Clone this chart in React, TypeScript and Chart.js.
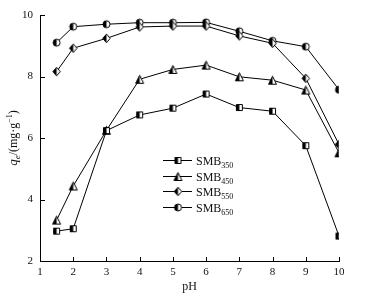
import React, { useEffect, useRef } from 'react';
import { Chart, registerables } from 'chart.js';

Chart.register(...registerables);

const pH = [1.5, 2, 3, 4, 5, 6, 7, 8, 9, 10];
const smb350 = [2.97, 3.05, 6.24, 6.75, 6.97, 7.43, 6.99, 6.87, 5.75, 2.81];
const smb450 = [3.33, 4.44, 6.25, 7.91, 8.23, 8.37, 7.99, 7.88, 7.56, 5.52];
const smb550 = [8.16, 8.92, 9.24, 9.61, 9.64, 9.64, 9.32, 9.08, 7.94, 5.79];
const smb650 = [9.1, 9.62, 9.7, 9.75, 9.75, 9.76, 9.47, 9.16, 8.97, 7.57];
const seriesSubs = ['350', '450', '550', '650'];
const shapes = ['square', 'triangle', 'diamond', 'circle'];
const xTicks = [1, 2, 3, 4, 5, 6, 7, 8, 9, 10];
const yTicks = [2, 4, 6, 8, 10];

const FONT = '"Liberation Serif", "DejaVu Serif", serif';

function makeMarker(shape: string): HTMLCanvasElement {
  const c = document.createElement('canvas');
  c.width = 11;
  c.height = 11;
  const ctx = c.getContext('2d')!;
  const path = () => {
    ctx.beginPath();
    if (shape === 'square') {
      ctx.rect(2.5, 2.5, 6, 6);
    } else if (shape === 'triangle') {
      ctx.moveTo(5.5, 1.5);
      ctx.lineTo(9.5, 9.5);
      ctx.lineTo(1.5, 9.5);
      ctx.closePath();
    } else if (shape === 'diamond') {
      ctx.moveTo(5.5, 1.2);
      ctx.lineTo(9.2, 5.5);
      ctx.lineTo(5.5, 9.8);
      ctx.lineTo(1.8, 5.5);
      ctx.closePath();
    } else {
      ctx.arc(5.5, 5.5, 3.5, 0, Math.PI * 2);
    }
  };
  path();
  ctx.fillStyle = '#fff';
  ctx.fill();
  ctx.save();
  ctx.beginPath();
  ctx.rect(0, 0, 5.5, 11);
  ctx.clip();
  path();
  ctx.fillStyle = '#000';
  ctx.fill();
  ctx.restore();
  path();
  ctx.lineWidth = 1;
  ctx.strokeStyle = '#000';
  ctx.stroke();
  return c;
}

export default function App() {
  const ref = useRef<HTMLCanvasElement | null>(null);

  useEffect(() => {
    if (!ref.current) return;
    const markers = shapes.map(makeMarker);
    const all = [smb350, smb450, smb550, smb650];

    const decor = {
      id: 'decor',
      afterDraw(chart: any) {
        const ctx = chart.ctx as CanvasRenderingContext2D;
        const xs = chart.scales.x;
        const ys = chart.scales.y;
        const area = chart.chartArea;
        ctx.save();
        ctx.strokeStyle = '#000';
        ctx.lineWidth = 1;
        // inward ticks
        xTicks.forEach((v) => {
          const px = Math.round(xs.getPixelForValue(v)) + 0.5;
          ctx.beginPath();
          ctx.moveTo(px, area.bottom);
          ctx.lineTo(px, area.bottom - 4);
          ctx.stroke();
        });
        yTicks.forEach((v) => {
          const py = Math.round(ys.getPixelForValue(v)) + 0.5;
          ctx.beginPath();
          ctx.moveTo(area.left, py);
          ctx.lineTo(area.left + 5, py);
          ctx.stroke();
        });
        // x title
        ctx.fillStyle = '#111';
        ctx.font = `12px ${FONT}`;
        ctx.textAlign = 'center';
        ctx.textBaseline = 'middle';
        ctx.fillText('pH', (area.left + area.right) / 2, 287);
        // y title (rotated)
        ctx.save();
        ctx.translate(13, 138);
        ctx.rotate(-Math.PI / 2);
        const parts: [string, string, number][] = [
          ['q', `italic 13px ${FONT}`, 0],
          ['e', `italic 9px ${FONT}`, 3],
          ['/(mg·g', `12px ${FONT}`, 0],
          ['−1', `8px ${FONT}`, -5],
          [')', `12px ${FONT}`, 0],
        ];
        let total = 0;
        parts.forEach(([t, f]) => {
          ctx.font = f;
          total += ctx.measureText(t).width;
        });
        let cx = -total / 2;
        ctx.textAlign = 'left';
        ctx.textBaseline = 'alphabetic';
        parts.forEach(([t, f, dy]) => {
          ctx.font = f;
          ctx.fillText(t, cx, 4 + dy);
          cx += ctx.measureText(t).width;
        });
        ctx.restore();
        // legend
        const rows = [160, 175.5, 191, 206.5];
        rows.forEach((ry, i) => {
          const y = Math.round(ry) + 0.5;
          ctx.beginPath();
          ctx.moveTo(163, y);
          ctx.lineTo(192, y);
          ctx.stroke();
          ctx.drawImage(markers[i], 178 - 5.5, y - 5.5);
          ctx.textAlign = 'left';
          ctx.textBaseline = 'alphabetic';
          ctx.font = `12px ${FONT}`;
          ctx.fillText('SMB', 196, y + 4);
          const w = ctx.measureText('SMB').width;
          ctx.font = `8px ${FONT}`;
          ctx.fillText(seriesSubs[i], 196 + w, y + 7);
        });
        ctx.restore();
      },
    };

    const chart = new Chart(ref.current, {
      type: 'line',
      data: {
        datasets: all.map((vals, i) => ({
          label: 'SMB' + seriesSubs[i],
          data: pH.map((x, j) => ({ x, y: vals[j] })),
          borderColor: '#000',
          borderWidth: 1,
          pointStyle: markers[i] as any,
          pointRadius: 5,
          fill: false,
          tension: 0,
        })),
      },
      options: {
        animation: false,
        responsive: false,
        maintainAspectRatio: false,
        layout: { padding: { top: 15, right: 40, left: 0, bottom: 0 } },
        plugins: { legend: { display: false }, tooltip: { enabled: false } },
        scales: {
          x: {
            type: 'linear',
            min: 1,
            max: 10,
            grid: { display: false, drawTicks: false },
            border: { display: true, color: '#000', width: 1 },
            ticks: {
              stepSize: 1,
              padding: 5,
              color: '#111',
              font: { family: FONT, size: 11 },
            },
            afterFit: (s: any) => {
              s.height = 43;
            },
          },
          y: {
            type: 'linear',
            min: 2,
            max: 10,
            grid: { display: false, drawTicks: false },
            border: { display: true, color: '#000', width: 1 },
            ticks: {
              stepSize: 2,
              padding: 7,
              color: '#111',
              font: { family: FONT, size: 11 },
            },
            afterFit: (s: any) => {
              s.width = 40;
            },
          },
        },
      },
      plugins: [decor],
    });
    return () => chart.destroy();
  }, []);

  return (
    <div style={{ position: 'fixed', left: 0, top: 0, width: 379, height: 304, background: '#fff' }}>
      <canvas ref={ref} width={379} height={304} style={{ display: 'block', width: 379, height: 304 }} />
    </div>
  );
}
